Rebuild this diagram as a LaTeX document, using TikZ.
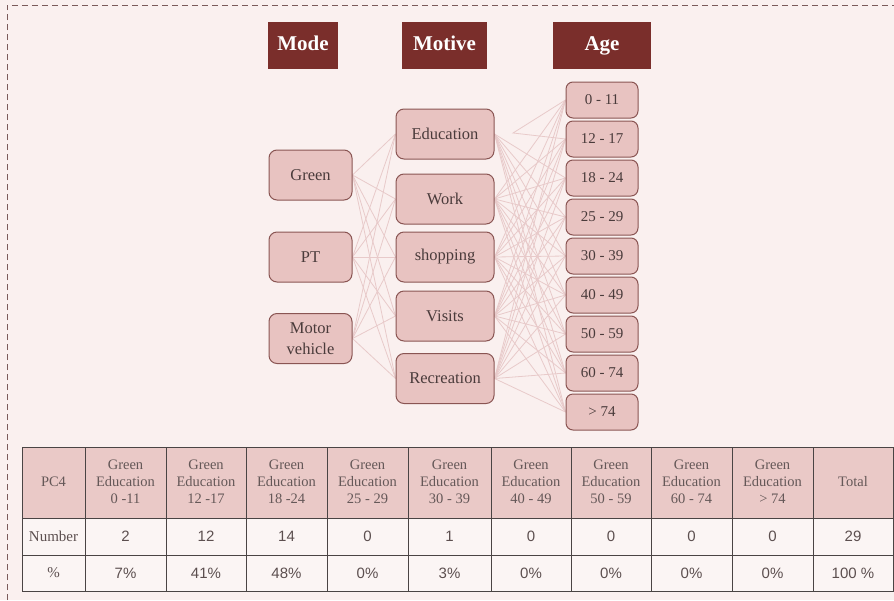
\documentclass[tikz,border=0pt]{standalone}
\usepackage{fontspec}
\setmainfont{Liberation Serif}
\newfontfamily\numfont{Liberation Sans}
\usetikzlibrary{backgrounds}
\definecolor{pagebg}{HTML}{FAF0EF}
\definecolor{headred}{HTML}{7A2E2B}
\definecolor{boxfill}{HTML}{E8C3C1}
\definecolor{boxline}{HTML}{8A5553}
\definecolor{linkcol}{HTML}{E8CACA}
\definecolor{txt}{HTML}{4A3B3B}
\definecolor{gridcol}{HTML}{4A4444}
\definecolor{frame}{HTML}{7A5A5A}
\tikzset{
  header/.style={fill=headred, text=white, inner sep=0pt,
    font=\fontsize{21}{24}\selectfont\bfseries, minimum height=47pt,
    text height=14pt, text depth=4pt},
  catbox/.style={fill=boxfill, draw=boxline, line width=1pt, rounded corners=8pt,
    text=txt, inner sep=0pt, align=center, font=\fontsize{16.5}{21}\selectfont},
  modebox/.style={catbox, minimum width=83pt, minimum height=50pt},
  motivebox/.style={catbox, minimum width=98pt, minimum height=50pt},
  agebox/.style={catbox, minimum width=72pt, minimum height=36pt, rounded corners=7pt,
    font=\fontsize{15}{18}\selectfont},
  link/.style={draw=linkcol, line width=0.8pt},
  headcell/.style={text=txt!85, align=center, inner sep=0pt,
    font=\fontsize{14.5}{17}\selectfont},
  numcell/.style={text=txt!90, inner sep=0pt, font=\numfont\fontsize{15}{18}\selectfont},
  labcell/.style={text=txt!90, inner sep=0pt, font=\fontsize{15}{18}\selectfont},
}
\begin{document}
\begin{tikzpicture}[x=1pt,y=-1pt]
\useasboundingbox (0,0) rectangle (894,600);

% column headings
\node[header, minimum width=70pt] (hmode) at (303,45.5) {Mode};
\node[header, minimum width=85pt] (hmotive) at (444.5,45.5) {Motive};
\node[header, minimum width=98pt] (hage) at (602,45.5) {Age};

% modes
\node[modebox] (green) at (310.5,175) {Green};
\node[modebox] (pt) at (310.5,257) {PT};
\node[modebox] (motor) at (310.5,338.5) {Motor\\vehicle};

% motives
\node[motivebox] (edu) at (445,134) {Education};
\node[motivebox] (work) at (445,199) {Work};
\node[motivebox] (shop) at (445,257) {shopping};
\node[motivebox] (visit) at (445,316) {Visits};
\node[motivebox] (recr) at (445,378.5) {Recreation};

% age groups
\foreach \n/\y/\t in {a1/100/0 - 11, a2/139/12 - 17, a3/178/18 - 24, a4/217/25 - 29,
  a5/256/30 - 39, a6/295/40 - 49, a7/334/50 - 59, a8/373/60 - 74, a9/412/> 74}
  \node[agebox] (\n) at (602,\y) {\t};

\coordinate (edufork) at (513,133);

\begin{pgfonlayer}{background}
  % page and dashed frame
  \fill[pagebg] (0,0) rectangle (894,600);
  \draw[frame, line width=1pt, dash pattern=on 6pt off 4pt] (7,600) -- (7,5) -- (894,5);
  % mode -> motive links
  \foreach \m in {green,pt,motor}
    \foreach \v in {edu,work,shop,visit,recr}
      \draw[link] (\m.east) -- (\v.west);
  % motive -> age links
  \foreach \v in {work,shop,visit,recr}
    \foreach \a in {a1,a2,a3,a4,a5,a6,a7,a8,a9}
      \draw[link] (\v.east) -- (\a.west);
  \foreach \a in {a3,a4,a5,a6,a7,a8,a9}
    \draw[link] (edu.east) -- (\a.west);
  \draw[link] (a1.west) -- (edufork) -- (a2.west);
\end{pgfonlayer}

% results table
\fill[boxfill!90!white] (22,447) rectangle (893,518);
\fill[pagebg!70!white] (22,518) rectangle (893,591);
\draw[gridcol, line width=1pt] (22,447) rectangle (893,591);
\foreach \y in {518,555}
  \draw[gridcol, line width=1pt] (22,\y) -- (893,\y);
\foreach \x in {85,166,246,327,408,491,571,651,732,813}
  \draw[gridcol, line width=1pt] (\x,447) -- (\x,591);

\node[headcell] (tpc) at (53.5,482) {PC4};
\node[labcell] (tnum) at (53.5,536.5) {Number};
\node[labcell] (tpct) at (53.5,573) {\%};
\foreach \i/\x/\r/\c/\p in {1/125.5/0 -11/2/7\%, 2/206/12 -17/12/41\%, 3/286.5/18 -24/14/48\%,
  4/367.5/25 - 29/0/0\%, 5/449.5/30 - 39/1/3\%, 6/531/40 - 49/0/0\%, 7/611/50 - 59/0/0\%,
  8/691.5/60 - 74/0/0\%, 9/772.5/> 74/0/0\%} {
  \node[headcell] (th\i) at (\x,482) {Green\\Education\\\r};
  \node[numcell] (tc\i) at (\x,536.5) {\c};
  \node[numcell] (tp\i) at (\x,573) {\p};
}
\node[headcell] (ttot) at (853,482) {Total};
\node[numcell] (tctot) at (853,536.5) {29};
\node[numcell] (tptot) at (853,573) {100 \%};
\end{tikzpicture}
\end{document}
